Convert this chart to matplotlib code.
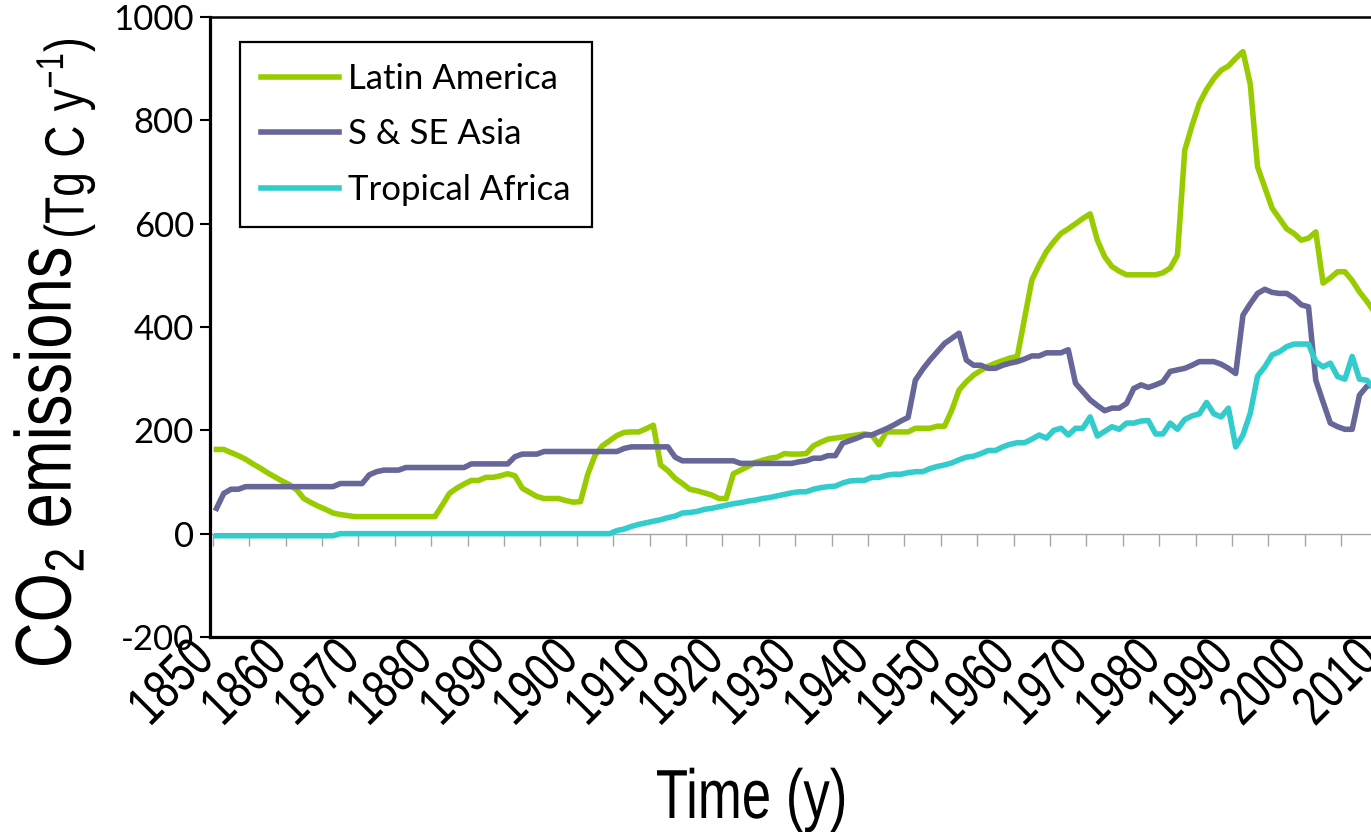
import matplotlib
matplotlib.use("Agg")
import matplotlib.pyplot as plt
import numpy as np
from matplotlib import font_manager as fm
from matplotlib.patheffects import AbstractPathEffect
from matplotlib.transforms import Affine2D, ScaledTranslation

# ---------------- data (Tg C / yr), one value per year 1850-2009 ----------------
years = list(range(1850, 2010))

latin_america = [
    163, 163, 157, 151, 144, 135, 127, 118, 110, 102,   # 1850s
    95, 85, 68, 60, 53, 47, 40, 37, 35, 33,             # 1860s
    33, 33, 33, 33, 33, 33, 33, 33, 33, 33,             # 1870s
    33, 55, 78, 88, 96, 103, 103, 109, 109, 112,        # 1880s
    116, 112, 88, 80, 72, 68, 68, 68, 64, 61,           # 1890s
    62, 115, 152, 170, 180, 190, 196, 197, 197, 203,    # 1900s
    210, 133, 122, 107, 97, 86, 83, 79, 75, 68,         # 1910s
    68, 116, 123, 130, 138, 142, 146, 148, 155, 154,    # 1920s
    154, 155, 170, 177, 183, 185, 187, 189, 191, 193,   # 1930s
    191, 172, 197, 197, 197, 197, 204, 204, 204, 208,   # 1940s
    208, 239, 278, 294, 307, 316, 324, 330, 335, 340,   # 1950s
    343, 417, 491, 520, 546, 565, 581, 590, 600, 610,   # 1960s
    619, 568, 536, 517, 508, 501, 501, 501, 501, 501,   # 1970s
    505, 514, 539, 742, 790, 833, 860, 881, 897, 905,   # 1980s
    920, 933, 870, 710, 670, 630, 610, 590, 581, 568,   # 1990s
    572, 584, 485, 495, 507, 507, 490, 468, 450, 430,   # 2000s
]

s_se_asia = [
    49, 78, 86, 86, 91, 91, 91, 91, 91, 91,
    91, 91, 91, 91, 91, 91, 91, 97, 97, 97,
    97, 114, 120, 123, 123, 123, 128, 128, 128, 128,
    128, 128, 128, 128, 128, 135, 135, 135, 135, 135,
    135, 149, 154, 154, 154, 159, 159, 159, 159, 159,
    159, 159, 159, 159, 159, 159, 165, 168, 168, 168,
    168, 168, 168, 148, 141, 141, 141, 141, 141, 141,
    141, 141, 136, 136, 136, 136, 136, 136, 136, 136,
    139, 141, 146, 146, 151, 151, 175, 180, 185, 191,
    191, 197, 203, 210, 218, 225, 297, 318, 336, 352,
    368, 378, 388, 336, 326, 326, 320, 320, 326, 330,
    333, 338, 344, 344, 350, 350, 350, 356, 291, 275,
    259, 248, 238, 243, 243, 252, 281, 288, 283, 288,
    294, 314, 317, 320, 326, 333, 333, 333, 328, 320,
    310, 423, 445, 465, 473, 467, 465, 465, 456, 443,
    439, 297, 255, 214, 207, 202, 202, 268, 285, 290,
]

tropical_africa = [
    -4, -4, -4, -4, -4, -4, -4, -4, -4, -4,
    -4, -4, -4, -4, -4, -4, -4, 0, 0, 0,
    0, 0, 0, 0, 0, 0, 0, 0, 0, 0,
    0, 0, 0, 0, 0, 0, 0, 0, 0, 0,
    0, 0, 0, 0, 0, 0, 0, 0, 0, 0,
    0, 0, 0, 0, 0, 6, 9, 14, 18, 21,
    24, 27, 31, 34, 40, 41, 43, 47, 49, 52,
    55, 58, 60, 63, 65, 68, 70, 73, 76, 79,
    81, 81, 86, 89, 91, 92, 98, 102, 103, 103,
    109, 109, 113, 115, 115, 118, 120, 120, 126, 130,
    133, 137, 143, 148, 150, 155, 161, 161, 168, 173,
    176, 176, 183, 191, 185, 200, 204, 191, 204, 204,
    226, 189, 198, 207, 202, 214, 214, 218, 219, 193,
    193, 214, 202, 221, 228, 232, 254, 232, 226, 243,
    168, 191, 233, 305, 323, 346, 352, 362, 367, 367,
    367, 333, 323, 330, 304, 299, 343, 299, 297, 281,
]

series_labels = ["Latin America", "S & SE Asia", "Tropical Africa"]
series_colors = ["#99CC00", "#666699", "#33CCCC"]
y_ticks = [-200, 0, 200, 400, 600, 800, 1000]
label_years = list(range(1850, 2011, 10))
mark_years = list(range(1850, 2011, 5))
y_title = r"CO$_\mathregular{2}$ emissions$_{\,\mathregular{(Tg\ C\ y^{-1})}}$"
x_title = "Time (y)"

# ---------------- fonts ----------------
names = {f.name for f in fm.fontManager.ttflist}
if "Liberation Sans Narrow" in names:
    COND, SQZ = "Liberation Sans Narrow", 0.92
else:
    COND, SQZ = "Liberation Sans", 0.76
BODY = "Lato" if "Lato" in names else "DejaVu Sans"


class Squeeze(AbstractPathEffect):
    """Compress glyphs along the text direction (condensed look).

    Either a fixed factor around a pivot ('left', 'center', 'right'), or
    span=(start, end) in display pixels: glyphs are fitted between them."""

    def __init__(self, factor=1.0, pivot="left", span=None):
        super().__init__()
        self.factor = factor
        self.pivot = pivot
        self.span = span

    def draw_path(self, renderer, gc, tpath, affine, rgbFace=None):
        ext = tpath.get_extents()
        if self.span is None:
            s = self.factor
            p = {"left": 0.0, "center": (ext.x0 + ext.x1) / 2, "right": ext.x1}[self.pivot]
        else:
            o = np.asarray(affine.transform((0.0, 0.0)))
            u = np.asarray(affine.transform((1.0, 0.0))) - o
            proj = lambda q: float(np.dot(np.asarray(q) - o, u) / np.dot(u, u))
            la, lb = proj(self.span[0]), proj(self.span[1])
            s = (lb - la) / (ext.x1 - ext.x0)
            p = (la - s * ext.x0) / (1.0 - s)
        t = Affine2D().translate(-p, 0).scale(s, 1).translate(p, 0) + affine
        renderer.draw_path(gc, tpath, t, rgbFace)


# ---------------- figure ----------------
W, H = 1371, 832
fig = plt.figure(figsize=(W / 100, H / 100), dpi=100, facecolor="white")

px_per_year = 7.28
x_left = 1850 - (216.5 - 210) / px_per_year
x_right = 2012
ax = fig.add_axes([210 / W, (H - 637) / H, (x_right - x_left) * px_per_year / W, 620 / H])

for vals, lab, col in zip([latin_america, s_se_asia, tropical_africa], series_labels, series_colors):
    ax.plot(years, vals, color=col, lw=4.0, label=lab, solid_joinstyle="round", zorder=3)

ax.set_xlim(x_left, x_right)
ax.set_ylim(-200, 1000)

# y axis
ax.set_yticks(y_ticks)
ax.set_yticklabels([str(v) for v in y_ticks], family=BODY, fontsize=25)
ax.tick_params(axis="y", direction="out", length=7.5, width=1.5, color="black", pad=4)

# x axis labels (no marks at the bottom)
ax.tick_params(axis="x", length=0, pad=10)
ax.set_xticks(label_years, [str(y) for y in label_years], rotation=45, ha="right",
              rotation_mode="anchor", va="center", family=COND, fontsize=40)
shift = ScaledTranslation(-10 / 100, 0, fig.dpi_scale_trans)
for t in ax.get_xticklabels():
    t.set_path_effects([Squeeze(SQZ, "right")])
    t.set_transform(t.get_transform() + shift)

# spines
for s in ("left", "bottom"):
    ax.spines[s].set_linewidth(2.3)
ax.spines["top"].set_linewidth(1.8)
ax.spines["right"].set_visible(False)

# zero line with category tick marks
zero = ax.secondary_xaxis(200 / 1200)
zero.set_xticks([y - 0.5 for y in mark_years])
zero.tick_params(axis="x", direction="out", length=8.6, width=1.0, color="#A6A6A6",
                 labelbottom=False, labeltop=False)
for s in zero.spines.values():
    s.set_color("#A6A6A6")
    s.set_linewidth(1.0)

# legend
leg = ax.legend(loc="upper left", bbox_to_anchor=(240 / W, 1 - 42 / H), bbox_transform=fig.transFigure,
                borderaxespad=0, frameon=True, fancybox=False, edgecolor="black", framealpha=1,
                prop={"family": BODY, "size": 25}, handlelength=2.25, handletextpad=0.27,
                labelspacing=0.68, borderpad=0.6)
leg.get_frame().set_linewidth(1.6)

# axis titles
yt = fig.text(71 / W, 0.5, y_title, rotation=90, ha="center", va="baseline",
              rotation_mode="anchor", family=COND, fontsize=57)
yt.set_path_effects([Squeeze(span=((71, H - 665), (71, H - 40)))])
xt = fig.text(752 / W, 1 - 818 / H, x_title, ha="center", va="baseline",
              family=COND, fontsize=50)
xt.set_path_effects([Squeeze(SQZ, "center")])

fig.savefig("out.png", dpi=100, facecolor="white")
